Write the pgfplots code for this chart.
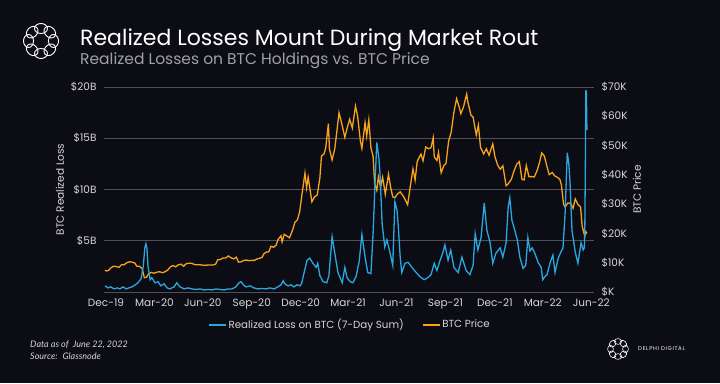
\documentclass[border=0pt]{standalone}
\usepackage{pgfplots}
\pgfplotsset{compat=1.18}
\usepackage{fontspec}
\setmainfont{Poppins}
\newfontfamily\latofont{Lato}
\definecolor{bg}{RGB}{12,12,20}
\definecolor{lossblue}{RGB}{41,168,224}
\definecolor{priceorange}{RGB}{247,163,28}
\definecolor{gridgray}{RGB}{80,80,86}
\definecolor{ticktext}{RGB}{215,215,215}
\definecolor{subgray}{RGB}{160,160,166}
\pgfplotsset{
  common/.style={
    anchor=south west, scale only axis,
    width=490pt, height=205pt,
    xmin=-3.76, xmax=917.3,
    axis line style={draw=none},
    major tick length=0pt, tick style={draw=none},
    ticklabel style={text=ticktext, font=\fontsize{10.5}{12}\selectfont},
    label style={text=ticktext, font=\fontsize{10.5}{12}\selectfont},
  }
}
\begin{document}
\begin{tikzpicture}
\fill[bg] (0pt,0pt) rectangle (720pt,383pt);
\useasboundingbox (0pt,0pt) rectangle (720pt,383pt);
% title
\node[anchor=base west, text=white, font=\fontsize{22}{24}\selectfont, inner sep=0] at (80pt,337pt) {Realized Losses Mount During Market Rout};
\node[anchor=base west, text=subgray, font=\fontsize{15.5}{17}\selectfont, inner sep=0] at (80pt,318pt) {Realized Losses on BTC Holdings vs. BTC Price};
% logo
\foreach \a in {0,45,...,315} {
  \draw[white, line width=0.9pt] (41pt,342pt) ++(\a:12.5pt) ellipse [x radius=6.5pt, y radius=5pt, rotate=\a+90];
}
% footer
\node[anchor=base west, text=ticktext, font=\latofont\itshape\fontsize{9}{10}\selectfont, inner sep=0] at (30pt,36pt) {Data as of \ June 22, 2022};
\node[anchor=base west, text=ticktext, font=\latofont\itshape\fontsize{9}{10}\selectfont, inner sep=0] at (30pt,24pt) {Source: \ Glassnode};
\foreach \a in {0,45,...,315} {
  \draw[white, line width=0.6pt] (618pt,34pt) ++(\a:7.5pt) ellipse [x radius=3.8pt, y radius=2.9pt, rotate=\a+90];
}
\node[anchor=west, text=white, font=\fontsize{5.5}{6}\selectfont\addfontfeature{LetterSpace=12}, inner sep=0] at (638pt,34pt) {DELPHI DIGITAL};

% axis 1: left scale and grid
\begin{axis}[common, name=ax1, at={(104pt,91pt)},
  ymin=0, ymax=20,
  ytick={0,5,10,15,20}, yticklabels={,\$5B,\$10B,\$15B,\$20B},
  ymajorgrids, grid style={gridgray, line width=0.8pt},
  xtick={0,91,182,274,366,455,546,638,731,821,912},
  xticklabels={Dec-19,Mar-20,Jun-20,Sep-20,Dec-20,Mar-21,Jun-21,Sep-21,Dec-21,Mar-22,Jun-22},
  yticklabel style={xshift=-4pt},
  xticklabel style={yshift=-3.5pt},
  ylabel={BTC Realized Loss},
  ylabel style={at={(axis description cs:-0.0898,0.5)}, anchor=center},
]
\addplot[draw=none] coordinates {(0,0)};
\end{axis}

% axis 2: BTC price
\begin{axis}[common, at={(ax1.south west)},
  ymin=0, ymax=70,
  xtick=\empty, yticklabel pos=right,
  ytick={0,10,20,30,40,50,60,70},
  yticklabels={\$K,\$10K,\$20K,\$30K,\$40K,\$50K,\$60K,\$70K},
  yticklabel style={anchor=west, xshift=4pt},
  ylabel={BTC Price},
  ylabel style={at={(axis description cs:1.0878,0.5)}, anchor=center, rotate=0},
]
\addplot[priceorange, line width=1.3pt] coordinates {
(-2,7.4)(1,7.2)(5,7.4)(8,8.1)(14,8.8)(19,8.7)(24,8.4)(29,9.3)(34,9.3)(40,10.1)
(44,10.3)(49,10.2)(54,9.9)(58,8.8)(63,8.75)(68,8.0)(72,4.9)(76,5.0)(80,6.2)(85,6.7)
(90,6.4)(96,6.8)(101,6.9)(106,6.6)(111,6.9)(116,7.5)(121,8.6)(126,9.0)(131,8.6)(136,9.3)
(141,9.5)(146,8.8)(151,9.7)(156,9.8)(161,9.8)(166,9.4)(171,9.3)(176,9.3)(181,9.2)(186,9.1)
(191,9.2)(196,9.25)(201,9.2)(206,9.5)(210,11.0)(215,11.1)(220,11.6)(225,11.6)(230,12.3)(235,11.7)
(240,11.3)(245,11.9)(249,10.2)(254,10.3)(259,10.8)(264,10.9)(269,10.7)(274,10.8)(279,10.8)(284,11.3)
(289,11.5)(294,11.9)(296,12.9)(301,13.6)(306,13.7)(310,15.6)(315,15.3)(320,16.0)(323,17.8)(329,19.2)
(331,17.1)(335,19.7)(340,19.1)(345,18.5)(351,21.3)(355,23.8)(360,24.7)(364,27.4)(368,32.8)(374,40.6)
(377,35.6)(380,39.2)(387,30.8)(392,32.5)(397,33.1)(402,38.9)(405,46.4)(410,47.2)(413,49.2)(418,57.5)
(420,48.8)(425,45.1)(430,48.9)(434,54.9)(438,61.2)(443,57.6)(449,52.8)(453,55.8)(458,59.0)(463,56.0)
(469,63.5)(473,60.0)(478,51.8)(481,49.0)(487,57.8)(490,53.2)(494,58.8)(498,49.2)(502,46.4)(505,37.0)
(509,34.7)(512,39.3)(516,35.7)(520,39.2)(525,33.4)(531,40.2)(535,35.8)(539,32.5)(543,32.2)(548,33.5)
(553,34.2)(559,32.7)(567,29.8)(573,37.3)(577,42.0)(581,38.2)(585,44.6)(592,47.1)(596,44.8)(601,49.5)
(606,48.9)(611,49.3)(615,52.7)(617,46.1)(622,44.9)(625,47.7)(630,40.7)(635,43.2)(639,43.8)(644,51.5)
(649,54.7)(654,61.5)(659,66.0)(664,63.1)(667,60.9)(672,63.2)(678,67.6)(680,65.0)(686,60.4)(690,59.7)
(696,53.6)(700,57.0)(704,49.4)(710,47.1)(715,48.9)(720,46.7)(727,50.6)(731,46.3)(736,43.4)(741,41.9)
(746,43.1)(752,36.3)(755,36.7)(762,38.5)(767,41.4)(772,43.6)(777,44.5)(782,38.4)(786,38.3)(790,43.2)
(795,39.4)(800,39.4)(805,39.3)(810,41.3)(815,44.3)(819,47.5)(824,46.4)(829,42.8)(833,40.1)(839,40.8)
(843,39.7)(848,39.2)(853,38.5)(856,36.6)(860,30.1)(863,29.0)(868,30.4)(873,30.3)(878,28.6)(882,31.8)
(887,29.9)(892,29.1)(895,22.5)(898,20.4)(900,19.0)(902,20.6)(904,20.0)
};
\end{axis}

% axis 3: realized loss
\begin{axis}[common, at={(ax1.south west)},
  ymin=0, ymax=20, xtick=\empty, ytick=\empty,
  legend style={at={(0.502,-0.16)}, anchor=center, draw=none, fill=none,
    text=ticktext, font=\fontsize{10.3}{12}\selectfont, legend columns=2,
    /tikz/every even column/.append style={column sep=16pt}},
  legend image code/.code={\draw[#1, line width=1.5pt] (0pt,0pt) -- (17pt,0pt);},
]
\addplot[lossblue, line width=1.3pt] coordinates {
(-2,0.6)(4,0.4)(9,0.5)(15,0.3)(21,0.4)(26,0.3)(32,0.5)(38,0.3)(43,0.4)(49,0.5)
(55,0.7)(60,0.9)(66,1.3)(70,2.5)(73,4.3)(75,4.7)(77,4.2)(79,2.5)(83,1.2)(86,1.4)
(92,0.9)(98,1.0)(103,0.6)(109,0.8)(115,0.4)(120,0.3)(128,0.5)(133,0.9)(139,0.5)(147,0.3)
(154,0.4)(162,0.3)(169,0.25)(177,0.3)(184,0.2)(192,0.25)(199,0.2)(207,0.3)(214,0.25)(222,0.2)
(229,0.3)(237,0.3)(244,0.5)(250,0.9)(254,1.0)(258,0.7)(263,0.5)(271,0.6)(278,0.4)(286,0.3)
(293,0.35)(301,0.3)(308,0.4)(316,0.3)(323,0.5)(329,0.7)(333,1.1)(336,0.8)(342,0.6)(348,0.7)
(353,0.5)(359,0.7)(365,0.6)(368,0.9)(372,1.8)(378,3.1)(383,3.3)(389,2.8)(395,2.4)(398,2.8)
(402,1.6)(408,1.0)(415,0.9)(419,1.6)(425,5.4)(430,3.8)(436,1.9)(444,0.9)(449,2.4)(453,1.4)
(459,1.0)(464,0.9)(470,1.5)(476,3.0)(481,5.6)(487,3.4)(492,1.9)(498,1.8)(502,5.7)(506,11.0)
(509,14.6)(513,13.0)(515,11.6)(519,6.7)(524,4.4)(528,5.1)(534,3.8)(539,2.6)(543,8.8)(547,8.0)
(549,6.7)(553,3.4)(556,1.9)(562,2.8)(568,2.9)(575,2.4)(583,1.9)(590,1.5)(598,1.2)(605,1.4)
(611,1.7)(617,2.8)(622,2.1)(628,3.1)(633,3.8)(637,4.6)(643,3.1)(648,4.1)(654,2.4)(662,1.9)
(669,3.4)(677,2.1)(684,1.7)(690,2.6)(694,5.7)(699,4.1)(705,5.3)(711,8.7)(716,6.0)(722,4.8)
(727,2.8)(733,3.8)(741,4.3)(746,3.4)(752,4.8)(756,8.3)(759,9.2)(763,7.0)(767,6.3)(773,5.1)
(778,3.4)(784,2.3)(789,2.6)(793,5.3)(797,4.0)(801,4.3)(806,3.8)(812,2.9)(818,2.4)(821,1.2)
(825,1.5)(829,1.7)(835,2.9)(840,3.6)(844,1.9)(850,3.3)(855,3.9)(859,4.3)(863,7.7)(867,13.6)
(870,12.5)(872,10.9)(876,6.0)(882,3.9)(887,2.8)(893,4.8)(897,4.1)(899,4.3)(900,6.0)(901,12.0)
(902,19.7)(903,19.4)(904,15.8)
};
\addlegendentry{Realized Loss on BTC (7-Day Sum)}
\addlegendimage{priceorange, line width=1.5pt}
\addlegendentry{BTC Price}
\end{axis}
\end{tikzpicture}
\end{document}
